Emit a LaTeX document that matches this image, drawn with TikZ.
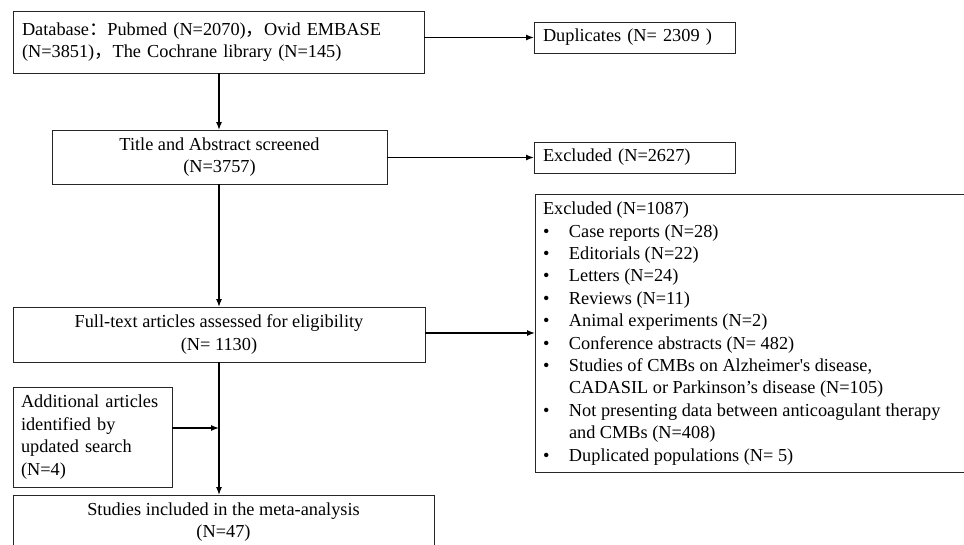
\documentclass[tikz,border=0pt]{standalone}
\usepackage{fontspec}
\setmainfont{Liberation Serif}
\newfontfamily\plainserif{Liberation Serif}
\newfontfamily\cjk{Noto Sans CJK SC}
\usetikzlibrary{arrows.meta}
\begin{document}
\begin{tikzpicture}[x=1pt,y=-1pt,
  font=\fontsize{18.3}{22.4}\selectfont,
  box/.style={draw=black!85, line width=0.9pt, inner sep=0pt, outer sep=0pt},
  arr/.style={line width=1.3pt, -{Latex[length=8pt,width=6pt]}}]
\useasboundingbox (0,0) rectangle (964,544);
\clip (0,0) rectangle (964,544);
\fill[white] (0,0) rectangle (964,544);

\node[box, minimum width=411, minimum height=62, text width=393, align=left] (db) at (218.5,42)
  {Database{\cjk ：}Pubmed (N=2070){\cjk ，}Ovid EMBASE\\(N=3851){\cjk ，}The Cochrane library (N=145)};
\node[box, minimum width=201, minimum height=31, text width=183, align=left] (dup) at (634.5,37.5)
  {Duplicates (N= 2309 )};
\node[box, minimum width=335, minimum height=54, align=center] (title) at (219.5,157)
  {Title and Abstract screened\\(N=3757)};
\node[box, minimum width=201, minimum height=31, text width=183, align=left] (exc1) at (634.5,157.5)
  {Excluded (N=2627)};
\node[box, minimum width=412, minimum height=55, align=center] (full) at (219,334.5)
  {Full-text articles assessed for eligibility\\(N= 1130)};
\node[box, anchor=north west, inner xsep=8pt, inner ysep=8pt] (exc2) at (535,194)
  {\parbox[c][262pt][t]{420pt}{\raggedright
  Excluded (N=1087)\\
  \makebox[26pt][l]{•}Case reports (N=28)\\
  \makebox[26pt][l]{•}Editorials (N=22)\\
  \makebox[26pt][l]{•}Letters (N=24)\\
  \makebox[26pt][l]{•}Reviews (N=11)\\
  \makebox[26pt][l]{•}Animal experiments (N=2)\\
  \makebox[26pt][l]{•}Conference abstracts (N= 482)\\
  \makebox[26pt][l]{•}Studies of CMBs on Alzheimer{\plainserif '}s disease,\\
  \hspace*{26pt}CADASIL or Parkinson’s disease (N=105)\\
  \makebox[26pt][l]{•}Not presenting data between anticoagulant therapy\\
  \hspace*{26pt}and CMBs (N=408)\\
  \makebox[26pt][l]{•}Duplicated populations (N= 5)}};
\node[box, minimum width=159, minimum height=100, text width=143, align=left] (add) at (92.5,437)
  {Additional articles\\identified by\\updated search\\(N=4)};
\node[box, minimum width=421, minimum height=54, align=center] (final) at (223.5,522)
  {Studies included in the meta-analysis\\(N=47)};

\coordinate (j) at (219,428);

\draw[arr] (db.east |- dup.west) -- (dup.west);
\draw[arr] (title.east |- exc1.west) -- (exc1.west);
\draw[arr] (full.east |- exc2.west) -- (exc2.west);
\draw[arr] (db.south -| j) -- (title.north -| j);
\draw[arr] (title.south -| j) -- (full.north -| j);
\draw[arr] (full.south -| j) -- (final.north -| j);
\draw[arr] (add.east |- j) -- (j);
\end{tikzpicture}
\end{document}
